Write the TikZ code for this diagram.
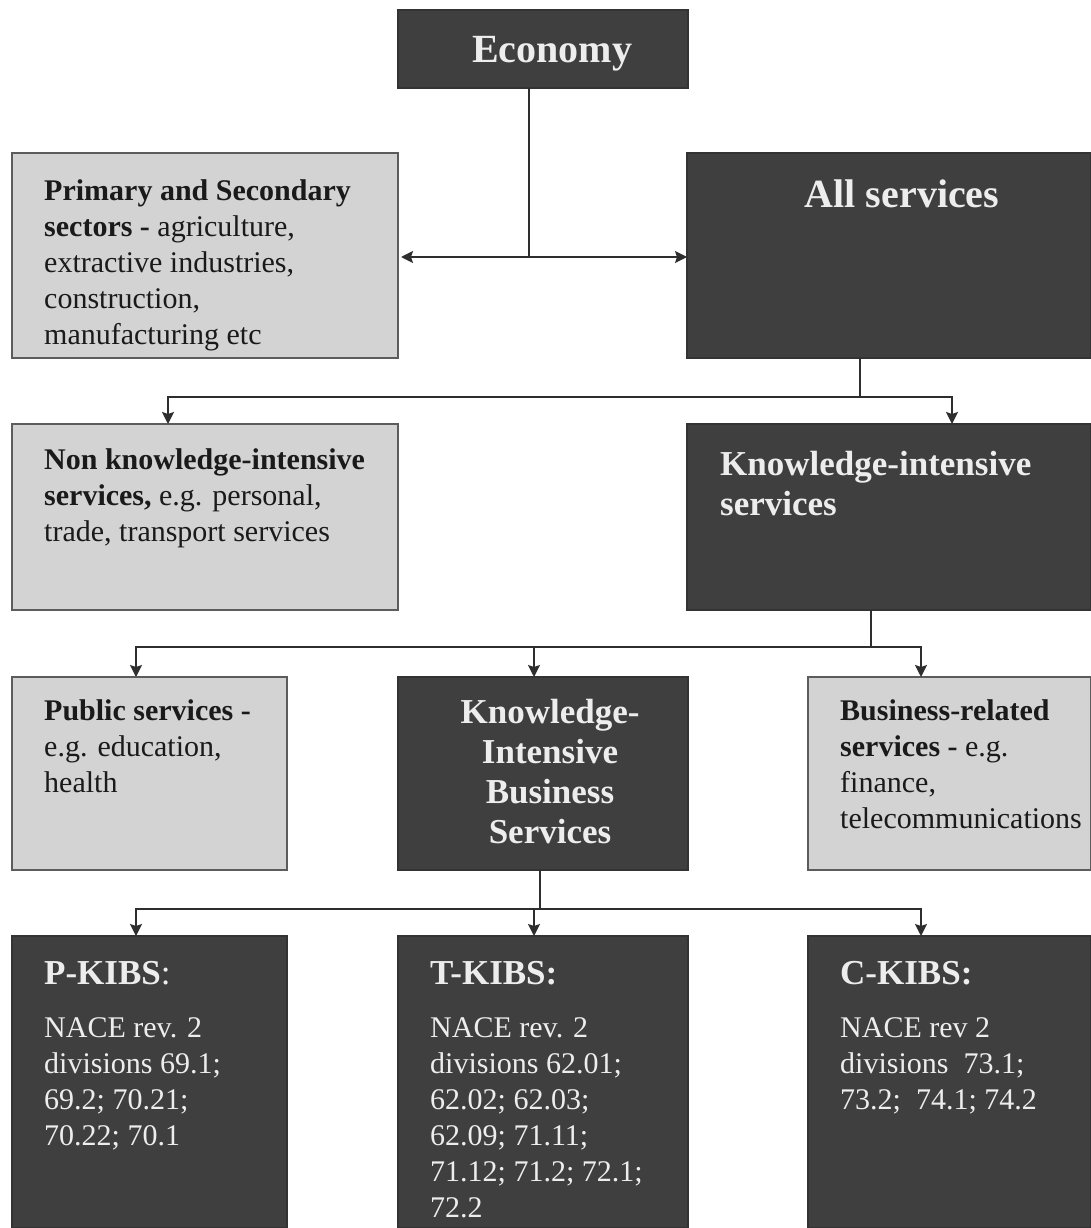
\documentclass[tikz,border=0pt]{standalone}
\usepackage{fontspec}
\setmainfont{Liberation Serif}
\usetikzlibrary{arrows.meta,calc}
\definecolor{darkbox}{HTML}{3F3F3F}
\definecolor{darkline}{HTML}{333333}
\definecolor{lightbox}{HTML}{D3D3D3}
\definecolor{boxline}{HTML}{5C5C5C}
\definecolor{lighttext}{HTML}{EDEDED}
\definecolor{darktext}{HTML}{1A1A1A}
\definecolor{linecol}{HTML}{2E2E2E}
\newcommand{\bodyf}{\fontsize{30}{36}\selectfont}
\newcommand{\headf}{\fontsize{35}{40}\selectfont\bfseries}
\newcommand{\bigf}{\fontsize{40}{46}\selectfont\bfseries}
\begin{document}
\begin{tikzpicture}[x=1pt,y=-1pt,
  lbox/.style={draw=boxline, fill=lightbox, line width=1.5pt, anchor=north west, inner sep=0pt, outer sep=0pt},
  dbox/.style={draw=darkline, fill=darkbox, line width=1.5pt, anchor=north west, inner sep=0pt, outer sep=0pt},
  ltxt/.style={anchor=north west, inner sep=0pt, align=left, font=\bodyf, text=darktext},
  dtxt/.style={anchor=north west, inner sep=0pt, align=left, font=\bodyf, text=lighttext},
  dhead/.style={inner sep=0pt, align=left, font=\headf, text=lighttext},
  conn/.style={draw=linecol, line width=1.8pt},
  arr/.style={conn, -{Stealth[length=12pt,width=12pt,inset=2pt]}}
]
\fill[white] (0,0) rectangle (1091,1228);
\useasboundingbox (0,0) rectangle (1091,1228);

% boxes
\node[dbox, minimum width=290, minimum height=78] (econ) at (398,10) {};
\node[lbox, minimum width=386, minimum height=205] (prim) at (12,153) {};
\node[dbox, minimum width=404, minimum height=205] (alls) at (687,153) {};
\node[lbox, minimum width=386, minimum height=186] (nki) at (12,424) {};
\node[dbox, minimum width=404, minimum height=186] (kis) at (687,424) {};
\node[lbox, minimum width=275, minimum height=193] (pub) at (12,677) {};
\node[dbox, minimum width=290, minimum height=193] (kibs) at (398,677) {};
\node[lbox, minimum width=283, minimum height=193] (bus) at (808,677) {};
\node[dbox, minimum width=275, minimum height=292] (pk) at (12,936) {};
\node[dbox, minimum width=290, minimum height=292] (tk) at (398,936) {};
\node[dbox, minimum width=283, minimum height=292] (ck) at (808,936) {};

% texts
\node[anchor=base, inner sep=0pt, font=\bigf, text=lighttext] (econt) at (552,63) {Economy};
\node[anchor=base, inner sep=0pt, font=\bigf, text=lighttext] (allst) at (902,207) {All services};
\node[ltxt] (primt) at (44,179) {\textbf{Primary and Secondary}\\\textbf{sectors -} agriculture,\\extractive industries,\\construction,\\manufacturing etc};
\node[ltxt] (nkit) at (44,448) {\textbf{Non knowledge-intensive}\\\textbf{services,} e.g. personal,\\trade, transport services};
\node[dhead, anchor=north west] (kist) at (720,451) {Knowledge-intensive\\services};
\node[ltxt] (pubt) at (44,699) {\textbf{Public services -}\\e.g. education,\\health};
\node[dhead, anchor=north, align=center] (kibst) at (550,699) {Knowledge-\\Intensive\\Business\\Services};
\node[ltxt] (bust) at (840,699) {\textbf{Business-related}\\\textbf{services -} e.g.\\finance,\\telecommunications};

\node[dhead, anchor=north west] (pkh) at (44,961) {P-KIBS\textmd{:}};
\node[dtxt] (pkt) at (44,1017) {NACE rev. 2\\divisions 69.1;\\69.2; 70.21;\\70.22; 70.1};
\node[dhead, anchor=north west] (tkh) at (430,961) {T-KIBS:};
\node[dtxt] (tkt) at (430,1017) {NACE rev. 2\\divisions 62.01;\\62.02; 62.03;\\62.09; 71.11;\\71.12; 71.2; 72.1;\\72.2};
\node[dhead, anchor=north west] (ckh) at (840,961) {C-KIBS:};
\node[dtxt] (ckt) at (840,1017) {NACE rev 2\\divisions~ 73.1;\\73.2;~ 74.1; 74.2};

% connectors
\coordinate (j1) at (529,257);
\draw[conn] (econ.south -| j1) -- (j1);
\draw[arr, shorten >=3pt] (j1) -- (prim.east |- j1);
\draw[arr] (j1) -- (alls.west |- j1);

\coordinate (j2) at (860,397);
\coordinate (j2l) at (168,397);
\coordinate (j2r) at (952,397);
\draw[conn] (alls.south -| j2) -- (j2);
\draw[arr] (j2) -- (j2l) -- (j2l |- nki.north);
\draw[arr] (j2) -- (j2r) -- (j2r |- kis.north);

\coordinate (j3) at (871,647);
\coordinate (j3l) at (136,647);
\coordinate (j3m) at (534,647);
\coordinate (j3r) at (921,647);
\draw[conn] (kis.south -| j3) -- (j3);
\draw[arr] (j3) -- (j3l) -- (j3l |- pub.north);
\draw[arr] (j3m) -- (j3m |- kibs.north);
\draw[arr] (j3) -- (j3r) -- (j3r |- bus.north);

\coordinate (j4) at (540,909);
\coordinate (j4l) at (136,909);
\coordinate (j4m) at (534,909);
\coordinate (j4r) at (921,909);
\draw[conn] (kibs.south -| j4) -- (j4);
\draw[arr] (j4) -- (j4l) -- (j4l |- pk.north);
\draw[arr] (j4m) -- (j4m |- tk.north);
\draw[arr] (j4) -- (j4r) -- (j4r |- ck.north);
\end{tikzpicture}
\end{document}
